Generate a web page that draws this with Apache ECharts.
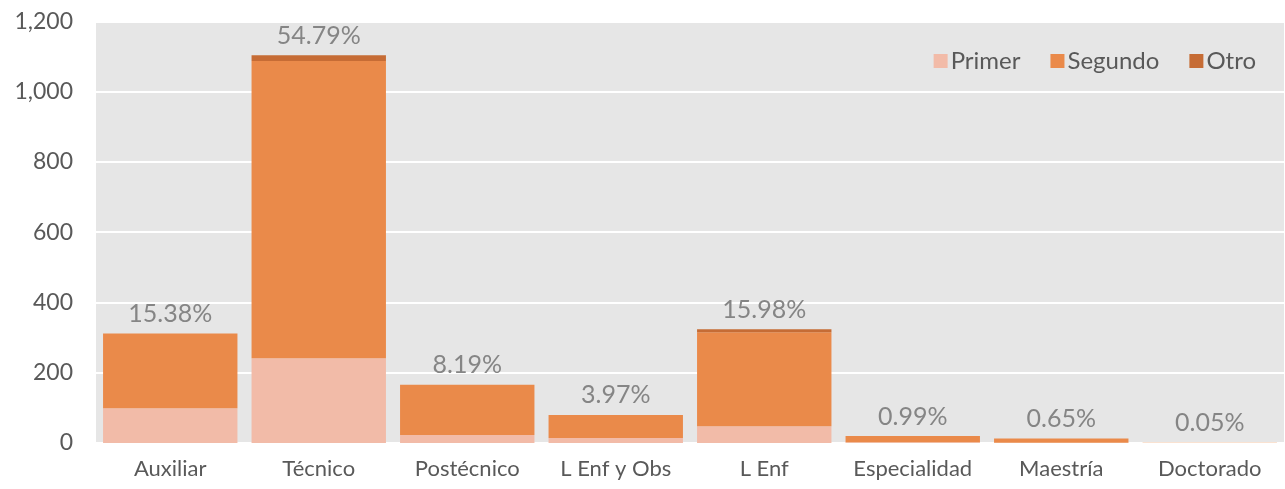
<!DOCTYPE html>
<html>
<head>
<meta charset="utf-8">
<script src="https://cdn.jsdelivr.net/npm/echarts@6/dist/echarts.min.js"></script>
<style>
html,body{margin:0;padding:0;background:#fff;}
#chart{width:1285px;height:489px;}
</style>
</head>
<body>
<div id="chart"></div>
<script>
const categories = ['Auxiliar','Técnico','Postécnico','L Enf y Obs','L Enf','Especialidad','Maestría','Doctorado'];
const primer  = [99, 241, 23, 14, 48, 2, 1, 0];
const segundo = [213, 846, 143, 66, 267, 18, 12, 1];
const otro    = [0, 17, 0, 0, 9, 0, 0, 0];
const pctLabels = ['15.38%','54.79%','8.19%','3.97%','15.98%','0.99%','0.65%','0.05%'];

const FONT = 'Lato, "Open Sans", sans-serif';
const chart = echarts.init(document.getElementById('chart'));
chart.setOption({
  animation: false,
  textStyle: { fontFamily: FONT },
  grid: { left: 96, right: 1, top: 21.4, bottom: 46, show: true, backgroundColor: '#e6e6e6', borderWidth: 0, containLabel: false },
  legend: {
    right: 24, top: 44, itemWidth: 14, itemHeight: 14, itemGap: 30,
    icon: 'rect',
    textStyle: { fontFamily: FONT, fontSize: 24, color: '#595959', padding: [0,0,0,-2] },
    data: ['Primer','Segundo','Otro']
  },
  xAxis: {
    type: 'category', data: categories,
    axisLine: { show: false }, axisTick: { show: false },
    axisLabel: { interval: 0, fontFamily: FONT, fontSize: 22, color: '#595959', margin: 15 }
  },
  yAxis: {
    type: 'value', min: 0, max: 1200, interval: 200,
    axisLine: { show: false }, axisTick: { show: false },
    splitLine: { lineStyle: { color: '#ffffff', width: 2 } },
    axisLabel: { fontFamily: FONT, fontSize: 23, color: '#595959', margin: 23,
      formatter: v => v.toLocaleString('en-US') }
  },
  series: [
    { name: 'Primer', type: 'bar', stack: 't', data: primer, barCategoryGap: '9.5%',
      itemStyle: { color: '#f2bba8' } },
    { name: 'Segundo', type: 'bar', stack: 't', data: segundo,
      itemStyle: { color: '#ea8a4a' } },
    { name: 'Otro', type: 'bar', stack: 't', data: otro,
      itemStyle: { color: '#c66c35' },
      label: { show: true, position: 'top', distance: 7, fontFamily: FONT, fontSize: 25, color: '#858585',
        formatter: p => pctLabels[p.dataIndex] } }
  ]
});
</script>
</body>
</html>
